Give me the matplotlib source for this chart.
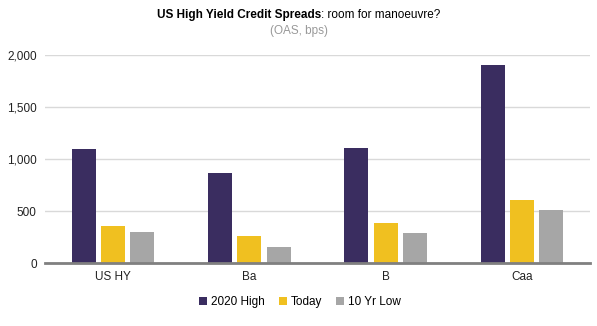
import numpy as np
import matplotlib.pyplot as plt

plt.rcParams['font.family'] = ['Liberation Sans', 'DejaVu Sans']

categories = ["US HY", "Ba", "B", "Caa"]
series_names = ["2020 High", "Today", "10 Yr Low"]
high_2020 = [1100, 865, 1110, 1905]
today = [355, 260, 385, 605]
low_10yr = [300, 155, 290, 510]
yticks = [0, 500, 1000, 1500, 2000]

colors = ["#3a2d60", "#f0c020", "#a6a6a6"]

fig = plt.figure(figsize=(5.97, 3.26), dpi=100)
ax = fig.add_axes([45 / 597, 1 - 263 / 326, 545 / 597, 208 / 326])

x = np.arange(len(categories))
width = 0.176
step = 0.215
for k, (vals, name) in enumerate(zip([high_2020, today, low_10yr], series_names)):
    ax.bar(x + (k - 1) * step, vals, width, color=colors[k], label=name, zorder=3)

ax.set_xlim(-0.5, len(categories) - 0.5)
ax.set_ylim(0, 2000)
ax.set_yticks(yticks)
ax.set_yticklabels([f"{v:,}" for v in yticks], fontsize=8.5, color="#222222")
ax.set_xticks(x)
ax.set_xticklabels(categories, fontsize=8.5, color="#222222")
ax.tick_params(axis="both", length=0, pad=6)
ax.grid(axis="y", color="#d9d9d9", linewidth=1, zorder=0)
for s in ["top", "right", "left"]:
    ax.spines[s].set_visible(False)
ax.spines["bottom"].set_color("#808080")
ax.spines["bottom"].set_linewidth(2)
ax.spines["bottom"].set_zorder(4)

# title: bold part + normal part
t1 = fig.text(0.5, 1 - 15 / 326, "US High Yield Credit Spreads", fontsize=8.5,
              fontweight="bold", ha="right", va="center")
fig.canvas.draw()
bb = t1.get_window_extent()
w1 = bb.width
t2 = fig.text(0.5, 1 - 15 / 326, ": room for manoeuvre?", fontsize=8.5,
              ha="left", va="center")
fig.canvas.draw()
w2 = t2.get_window_extent().width
shift = (w1 - w2) / 2 / fig.bbox.width
t1.set_x(0.5 + shift)
t2.set_x(0.5 + shift)
fig.text(0.5, 1 - 31 / 326, "(OAS, bps)", fontsize=8.5, color="#999999",
         ha="center", va="center")

ax.legend(loc="center", bbox_to_anchor=(300 / 597, 1 - 302 / 326),
          bbox_transform=fig.transFigure, ncol=3, frameon=False, fontsize=8.5,
          handlelength=0.7, handleheight=0.7, handletextpad=0.3, columnspacing=1.2)

fig.savefig("out.png", dpi=100)
